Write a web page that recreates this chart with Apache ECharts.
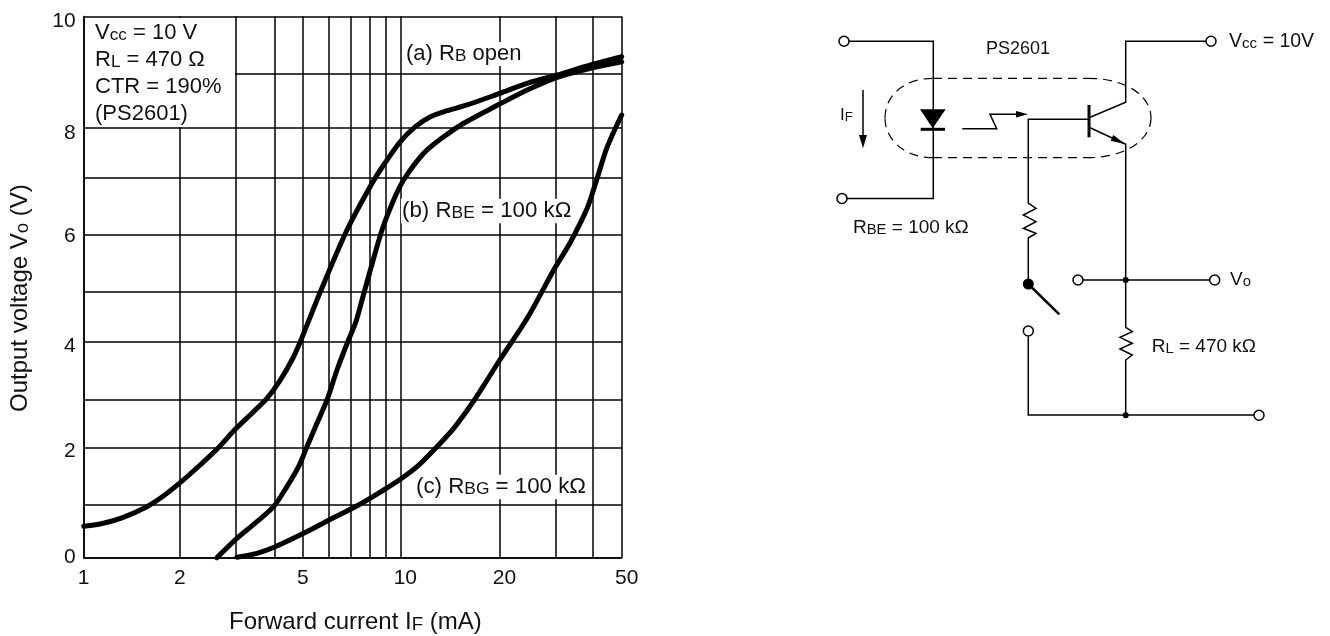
<!DOCTYPE html>
<html><head><meta charset="utf-8">
<style>html,body{margin:0;padding:0;background:#fff}#c{width:1330px;height:636px}</style>
<script src="https://cdn.jsdelivr.net/npm/echarts@6/dist/echarts.min.js"></script>
</head><body><div id="c"></div>
<script>
// Grid line values as drawn on the (hand-ruled) original axes
const xGrid = [1,2.012,3.024,4.025,4.925,5.952,6.965,8.02,8.97,10,20.56,30.97,40.46,50];
const yGrid = [0,0.974,2.027,2.914,3.99,4.91,5.96,7.02,7.94,8.938,10];
const xTickValues = [1,2.012,4.925,10,20.56,50];
const xTickLabels = ['1','2','5','10','20','50'];
const yTickValues = [0.01,1.97,3.91,5.94,7.85,9.915];
const yTickLabels = ['0','2','4','6','8','10'];

const curveAx = [1,1.153,1.334,1.582,1.785,2.016,2.332,2.633,3.009,3.437,3.79,4.175,4.546,4.83,5.586,6.785,8.14,8.856,10,11.154,12.44,14.05,16.25,20.6,25.15,31.28,39.88,50];
const curveAy = [0.58,0.636,0.746,0.942,1.14,1.386,1.713,2.003,2.372,2.698,2.945,3.283,3.653,3.991,4.91,6.055,6.918,7.256,7.687,7.964,8.149,8.259,8.365,8.581,8.766,8.919,9.104,9.257];
const curveBx = [2.633,3.046,3.524,3.976,4.383,4.77,5.07,5.453,5.866,6.308,6.823,7.233,7.567,8.04,8.752,9.524,10.24,11.85,13.71,15.85,20.6,25.15,31.28,39.88,50];
const curveBy = [0,0.358,0.665,0.942,1.312,1.681,2.051,2.483,2.914,3.468,3.991,4.355,4.762,5.316,6.055,6.609,6.979,7.472,7.779,8.027,8.383,8.642,8.877,9.043,9.165];
const curveCx = [3.046,3.524,4.025,4.947,5.952,7.38,8.856,10,11.29,12.75,14.74,16.85,18.8,20.6,25.15,30.5,34.5,38.9,41.35,45.03,50];
const curveCy = [0.01,0.081,0.203,0.451,0.697,0.974,1.251,1.449,1.681,1.99,2.391,2.853,3.283,3.653,4.423,5.316,5.839,6.456,6.918,7.594,8.18];

const FONT = '"Liberation Sans", Arial, sans-serif';
const INK = '#111';
const zip = (a,b)=>a.map((v,i)=>[v,b[i]]);
const curve = (name,xs,ys)=>({name,type:'line',data:zip(xs,ys),showSymbol:false,smooth:0.3,clip:false,z:3,silent:true,
  lineStyle:{color:'#000',width:5,cap:'round',join:'round'}});

const small = (fs)=>({s:{fontSize:fs*0.78,fontFamily:FONT,fill:INK,verticalAlign:'bottom',lineHeight:fs},
                      n:{fontSize:fs,fontFamily:FONT,fill:INK,lineHeight:fs}});
function label(x,y,text,fs,bg,rotation){
  return {type:'text',x,y,rotation:rotation||0,z:20,silent:true,style:{text,rich:small(fs),fontFamily:FONT,fontSize:fs,fill:INK,
    verticalAlign:'middle',align:'left',backgroundColor:bg?'#fff':undefined,padding:bg?[1,1,1,1]:undefined}};
}
const poly = (points,w)=>({type:'polyline',z:15,silent:true,shape:{points},style:{stroke:'#000',lineWidth:w||1.5,fill:null}});
const circ = (cx,cy,r)=>({type:'circle',z:16,silent:true,shape:{cx,cy,r},style:{stroke:'#000',lineWidth:1.5,fill:'#fff'}});
const dot = (cx,cy,r)=>({type:'circle',z:16,silent:true,shape:{cx,cy,r},style:{fill:'#000'}});
const tri = (points)=>({type:'polygon',z:16,silent:true,shape:{points},style:{fill:'#000'}});
const dash = {stroke:'#000',lineWidth:1.2,fill:null,lineDash:[9,6]};
const seg = (x1,y1,x2,y2)=>({type:'line',z:14,silent:true,shape:{x1,y1,x2,y2},style:dash});
const bez = (x1,y1,cpx1,cpy1,cpx2,cpy2,x2,y2)=>({type:'bezierCurve',z:14,silent:true,shape:{x1,y1,cpx1,cpy1,cpx2,cpy2,x2,y2},style:dash});

const notes = [
  {type:'rect',z:10,silent:true,shape:{x:85,y:18,width:150,height:109},style:{fill:'#fff'}},
  label(95,33,'{n|V}{s|cc}{n| = 10 V}',22),
  label(95,60,'{n|R}{s|L}{n| = 470 Ω}',22),
  label(95,87,'{n|CTR = 190%}',22),
  label(95,114,'{n|(PS2601)}',22),
  label(405,54,'{n|(a) R}{s|B}{n| open}',22,true),
  label(401,211,'{n|(b) R}{s|BE}{n| = 100 kΩ}',22.3,true),
  label(415,487,'{n|(c) R}{s|BG}{n| = 100 kΩ}',22.3,true),
  label(229,622,'{n|Forward current I}{s|F}{n| (mA)}',24),
  label(20,412,'{n|Output voltage V}{s|o}{n| (V)}',24,false,Math.PI/2),
];
const circuit = [
  poly([[849,41.3],[933.3,41.3],[933.3,198.5],[847,198.5]]),
  circ(844,41.3,5), circ(842,198.5,5),
  tri([[920,109.3],[945.7,109.3],[932.7,128.3]]),
  poly([[920.7,129.3],[945,129.3]],3),
  poly([[863,90],[863,137]]), tri([[859,135],[867,135],[863,148.3]]),
  poly([[962.3,128.7],[996.7,128.7],[990,114.3],[1018,114.3]]), tri([[1016,111],[1016,117.5],[1028,114.3]]),
  poly([[1088.3,119.3],[1028.3,119.3],[1028.3,203],[1036,208.3],[1023.3,215],[1036,221.7],[1023.3,228.3],[1036,233.3],[1028.3,238],[1028.3,284]]),
  dot(1028.3,284,5.5), poly([[1028.3,284],[1059.3,314.3]],2.5),
  circ(1028.3,331,5),
  poly([[1028.3,336],[1028.3,415],[1254,415]]), circ(1259,415.3,5), dot(1125.7,415.3,3),
  poly([[1206,41.3],[1125.7,41.3],[1125.7,102.3],[1089,117.7]]), circ(1211,41.3,5),
  poly([[1089,127.3],[1125.7,144.3],[1125.7,327.3],[1132.3,331.7],[1120,337.3],[1132.3,343.3],[1120,349],[1132.3,355],[1125.7,360],[1125.7,415]]),
  tri([[1125.7,144.3],[1113.3,135],[1110.7,140.7]]),
  poly([[1089,105],[1089,137.3]],3),
  poly([[1083,280],[1209.7,280]]), circ(1078,280,5), circ(1214.7,280,5), dot(1125.7,280,3),
  seg(933,78.3,1088,78.3), seg(933,157.7,1088,157.7),
  bez(1088,78.3,1125,78.3,1151,95,1151,118), bez(1151,118,1151,140,1125,157.7,1088,157.7),
  bez(933,157.7,905,157.7,885,140,885,118), bez(885,118,885,95,905,78.3,933,78.3),
  label(986,49,'{n|PS2601}',18),
  label(840,115,'{n|I}{s|F}',17),
  label(853,228,'{n|R}{s|BE}{n| = 100 kΩ}',19),
  label(1229,41.7,'{n|V}{s|cc}{n| = 10V}',19.5),
  label(1230,280,'{n|V}{s|o}',19),
  label(1151.7,346.7,'{n|R}{s|L}{n| = 470 kΩ}',19),
];

const chart = echarts.init(document.getElementById('c'),null,{renderer:'canvas'});
const gridLine = {show:true,lineStyle:{color:'#000',width:1.5,type:'solid'}};
chart.setOption({
  animation:false,
  backgroundColor:'#fff',
  grid:{left:83.7,right:708.3,top:16.5,bottom:78.3,containLabel:false,show:false},
  xAxis:{type:'log',logBase:10,min:1,max:50,
    axisLine:{show:true,lineStyle:{color:'#000',width:1.5}},
    axisTick:{show:false,customValues:xGrid},
    minorTick:{show:false},minorSplitLine:{show:false},
    splitLine:gridLine,
    axisLabel:{show:true,margin:10,color:INK,fontFamily:FONT,fontSize:21,customValues:xTickValues,hideOverlap:false,showMinLabel:true,showMaxLabel:true,
      formatter:(v)=>{const i=xTickValues.findIndex(t=>Math.abs(t-v)<1e-6);const t=i<0?'':xTickLabels[i];return t.length>1?'{r|'+t+'}':t;},
      rich:{r:{fontSize:21,fontFamily:FONT,color:INK,padding:[0,0,0,10]}}}},
  yAxis:{type:'value',min:0,max:10,
    axisLine:{show:true,lineStyle:{color:'#000',width:1.5}},
    axisTick:{show:false,customValues:yGrid},
    splitLine:gridLine,
    axisLabel:{show:true,margin:8,color:INK,fontFamily:FONT,fontSize:21,customValues:yTickValues,
      formatter:(v)=>{const i=yTickValues.findIndex(t=>Math.abs(t-v)<1e-6);return i<0?'':yTickLabels[i];}}},
  graphic:{elements:notes.concat(circuit)},
  series:[curve('(a) RB open',curveAx,curveAy),curve('(b) RBE = 100 kΩ',curveBx,curveBy),curve('(c) RBG = 100 kΩ',curveCx,curveCy)]
});
</script></body></html>
